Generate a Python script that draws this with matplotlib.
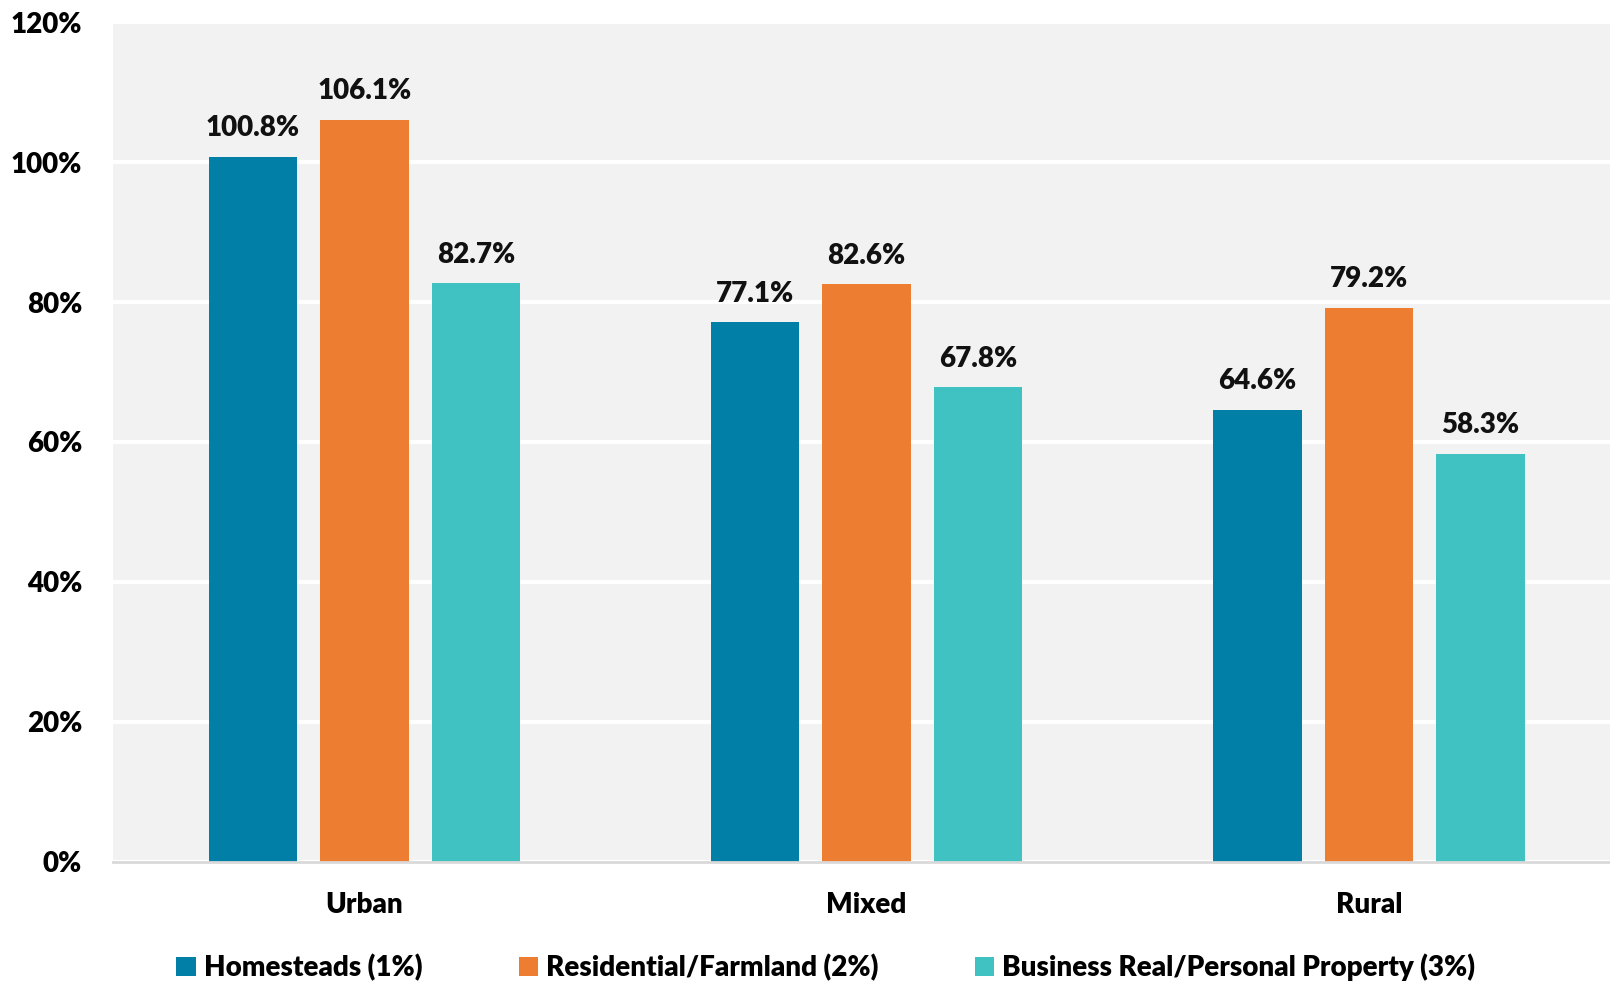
import matplotlib
matplotlib.use("Agg")
import matplotlib.pyplot as plt
import numpy as np

categories = ["Urban", "Mixed", "Rural"]
series_names = ["Homesteads (1%)", "Residential/Farmland (2%)", "Business Real/Personal Property (3%)"]
homesteads = [100.8, 77.1, 64.6]
residential = [106.1, 82.6, 79.2]
business = [82.7, 67.8, 58.3]
y_ticks = [0, 20, 40, 60, 80, 100, 120]

colors = ["#027FA7", "#ED7D31", "#40C1C2"]
plt.rcParams["font.family"] = ["Lato", "DejaVu Sans"]
FS = 20
WEIGHT = "heavy"

fig = plt.figure(figsize=(16.1, 9.82), dpi=100)
ax = fig.add_axes([0.070, 0.1227, 0.930, 0.8545])
ax.set_facecolor("#F2F2F2")

x = np.arange(len(categories))
width = 0.176
pitch = 0.222
for i, (vals, name, c) in enumerate(zip([homesteads, residential, business], series_names, colors)):
    pos = x + (i - 1) * pitch
    bars = ax.bar(pos, vals, width, color=c, label=name, zorder=3)
    for b, v in zip(bars, vals):
        ax.text(b.get_x() + b.get_width() / 2, v + 2.2, f"{v:.1f}%", ha="center", va="bottom",
                fontsize=FS, fontweight=WEIGHT, color="#111111", zorder=4)

ax.set_ylim(0, 120)
ax.set_xlim(-0.501, 2.48)
ax.set_yticks(y_ticks)
ax.set_yticklabels([f"{t}%" for t in y_ticks], fontsize=FS, fontweight=WEIGHT)
ax.set_xticks(x)
ax.set_xticklabels(categories, fontsize=FS, fontweight=WEIGHT)
ax.tick_params(axis="y", length=0, pad=22)
ax.tick_params(axis="x", length=0, pad=22)
ax.grid(axis="y", color="white", linewidth=3, zorder=1)
ax.set_axisbelow(True)
for s in ["top", "right", "left"]:
    ax.spines[s].set_visible(False)
ax.spines["bottom"].set_color("#D9D9D9")
ax.spines["bottom"].set_linewidth(2)
ax.spines["bottom"].set_zorder(5)

fig.legend(loc="center", bbox_to_anchor=(0.513, 0.015), ncol=3, frameon=False,
           prop={"size": FS, "weight": WEIGHT}, handlelength=0.7, handleheight=0.7,
           handletextpad=0.3, columnspacing=3.45, borderaxespad=0)

fig.savefig("out.png", dpi=100)
